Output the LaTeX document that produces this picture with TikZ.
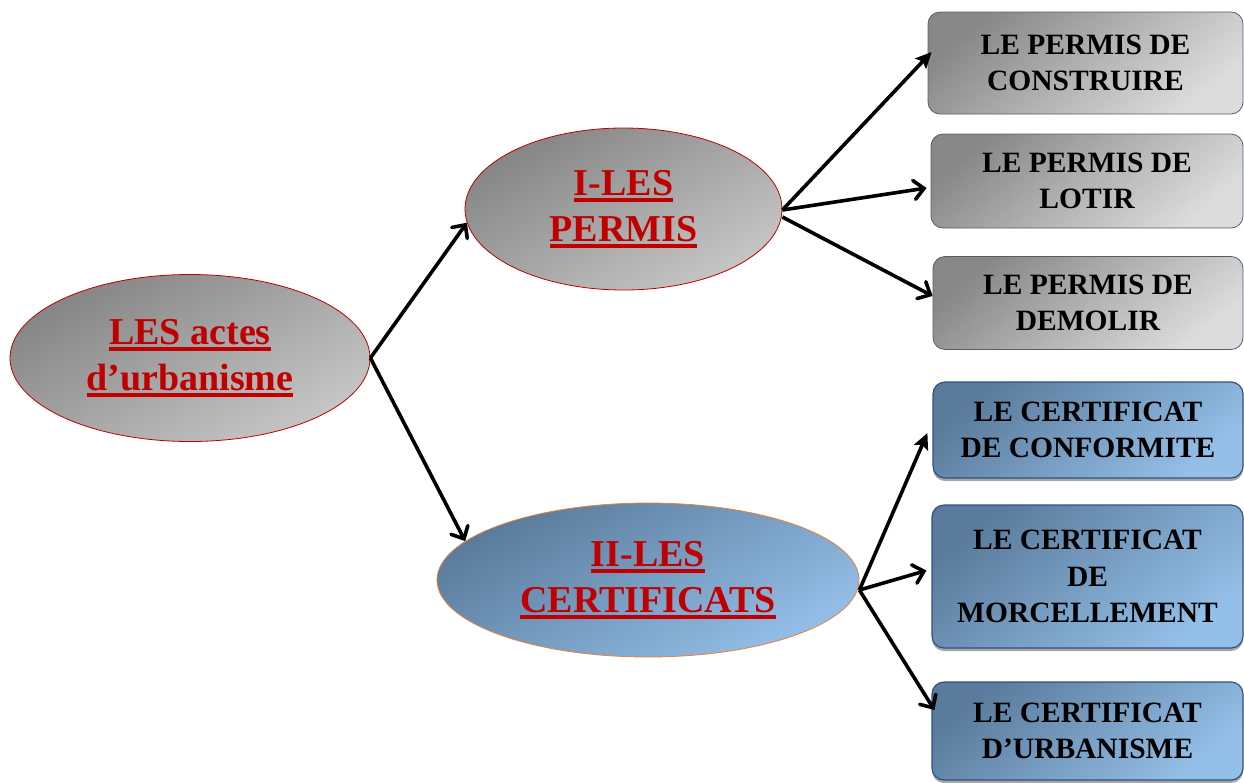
\documentclass[tikz,border=0pt]{standalone}
\usepackage{fontspec}
\setmainfont{Liberation Serif}
\usetikzlibrary{shapes.geometric,arrows.meta,shadows}
\definecolor{tred}{HTML}{C00000}
\definecolor{ellred}{HTML}{C00000}
\definecolor{ellorange}{HTML}{E8803A}
\definecolor{gA}{HTML}{858585}
\definecolor{gB}{HTML}{C6C6C6}
\definecolor{gbA}{HTML}{888888}
\definecolor{gbB}{HTML}{DCDCDC}
\definecolor{bA}{HTML}{5A7B9B}
\definecolor{bB}{HTML}{94BFE8}
\definecolor{gbord}{HTML}{4F5F72}
\definecolor{bbord}{HTML}{2F5280}
\newcommand\myul[1]{\setbox0=\hbox{#1}\rlap{\rule[-0.17em]{\wd0}{0.1em}}\box0}
\tikzset{
  ell/.style={ellipse, inner sep=0pt, align=center, text=tred,
    font=\fontsize{38}{45.5}\selectfont\bfseries, line width=0.8pt},
  gell/.style={ell, draw=ellred, top color=gA, bottom color=gB, shading angle=30},
  bell/.style={ell, draw=ellorange, top color=bA, bottom color=bB, shading angle=30},
  boxbase/.style={rectangle, rounded corners=12pt, inner sep=0pt, align=center,
    font=\fontsize{29.5}{36.5}\selectfont\bfseries, text=black},
  gbox/.style={boxbase, draw=gbord, line width=0.8pt, top color=gbA, bottom color=gbB, shading angle=40},
  bbox/.style={boxbase, draw=bbord, line width=1.2pt, top color=bA, bottom color=bB, shading angle=40,
    drop shadow={shadow xshift=0pt, shadow yshift=-3pt, fill=black, opacity=0.35}},
  openarr/.style={line width=3.6pt, -{Straight Barb[length=10pt,width=19pt,line cap=round]}},
  fillarr/.style={line width=3.6pt, -{Stealth[length=16pt,width=15pt,inset=3pt]}},
}
\begin{document}
\begin{tikzpicture}[x=1pt,y=-1pt]
\useasboundingbox (0,0) rectangle (1244,782);
% ellipses
\node[gell, minimum width=360pt, minimum height=167pt] (e1) at (190,358)
  {\myul{LES actes}\\\myul{d’urbanisme}};
\node[gell, minimum width=317pt, minimum height=162pt] (e2) at (623.5,209)
  {\myul{I-LES}\\\myul{PERMIS}};
\node[bell, minimum width=422pt, minimum height=154pt] (e3) at (648,580)
  {\myul{II-LES}\\\myul{CERTIFICATS}};
% boxes
\node[gbox, minimum width=315pt, minimum height=102pt] (b1) at (1085.5,63) {LE PERMIS DE\\CONSTRUIRE};
\node[gbox, minimum width=312pt, minimum height=94pt] (b2) at (1087,181) {LE PERMIS DE\\LOTIR};
\node[gbox, minimum width=310pt, minimum height=93pt] (b3) at (1088,303) {LE PERMIS DE\\DEMOLIR};
\node[bbox, minimum width=310pt, minimum height=96pt] (b4) at (1088,430) {LE CERTIFICAT\\DE CONFORMITE};
\node[bbox, minimum width=311pt, minimum height=143pt] (b5) at (1087.5,576.5) {LE CERTIFICAT\\DE\\MORCELLEMENT};
\node[bbox, minimum width=311pt, minimum height=98pt] (b6) at (1087.5,731) {LE CERTIFICAT\\D’URBANISME};
% arrows
\draw[openarr] (e1.east) -- (e2.185);
\draw[openarr] (e1.east) -- (e3.168);
\draw[fillarr] ([shift={(0,1)}]e2.east) -- ([shift={(4,-11)}]b1.west);
\draw[openarr] ([shift={(0,1)}]e2.east) -- ([shift={(-4,7)}]b2.west);
\draw[openarr] ([shift={(0,8)}]e2.east) -- ([shift={(0,-7)}]b3.west);
\draw[fillarr] ([shift={(0,10)}]e3.east) -- ([shift={(-5,3)}]b4.west);
\draw[openarr] ([shift={(0,10)}]e3.east) -- ([shift={(-5,-6)}]b5.west);
\draw[openarr] ([shift={(0,10)}]e3.east) -- ([shift={(3,-21)}]b6.west);
\end{tikzpicture}
\end{document}
